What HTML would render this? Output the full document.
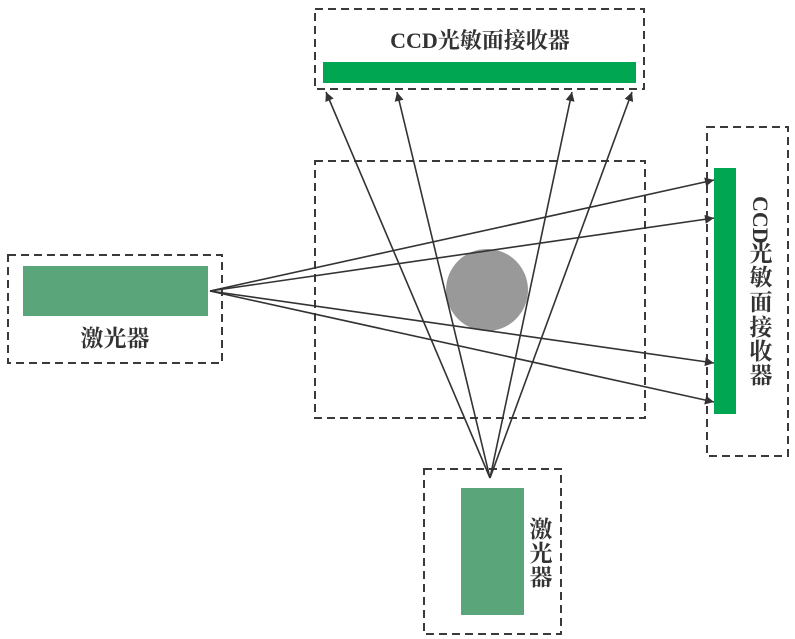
<!DOCTYPE html>
<html><head><meta charset="utf-8"><style>
html,body{margin:0;padding:0;background:#fff;}
svg{display:block;}
text{font-family:"Liberation Serif","Noto Serif CJK SC",serif;fill:#333;font-weight:bold;}
</style></head><body>
<svg width="795" height="639" viewBox="0 0 795 639" xmlns="http://www.w3.org/2000/svg">
<defs>
<marker id="a" viewBox="0 0 10 10" refX="10" refY="5" markerWidth="13" markerHeight="9" markerUnits="userSpaceOnUse" orient="auto">
<path d="M0,0 L10,5 L0,10 z" fill="#333"/></marker>
</defs>
<g fill="none" stroke="#3a3a3a" stroke-width="2" stroke-dasharray="8,5">
<rect x="315" y="9" width="329" height="80"/>
<rect x="707" y="127" width="81" height="329"/>
<rect x="315" y="161" width="330" height="257"/>
<rect x="8" y="255" width="214" height="108"/>
<rect x="424" y="469" width="137" height="165"/>
</g>
<rect x="323" y="62" width="313" height="21" fill="#00a651"/>
<rect x="714" y="168" width="22" height="246" fill="#00a651"/>
<rect x="23" y="266" width="185" height="50" fill="#5aa57a"/>
<rect x="461" y="488" width="63" height="127" fill="#5aa57a"/>
<circle cx="487" cy="290" r="41" fill="#999"/>
<g stroke="#333" stroke-width="1.6" marker-end="url(#a)">
<line x1="210" y1="291" x2="714" y2="180"/>
<line x1="210" y1="291" x2="714" y2="218"/>
<line x1="210" y1="291" x2="714" y2="363"/>
<line x1="210" y1="291" x2="714" y2="402"/>
<line x1="490" y1="478" x2="326" y2="92"/>
<line x1="490" y1="478" x2="397" y2="92"/>
<line x1="490" y1="478" x2="572" y2="92"/>
<line x1="490" y1="478" x2="632" y2="92"/>
</g>
<text x="480" y="48" font-size="22" text-anchor="middle">CCD光敏面接收器</text>
<text x="115" y="346" font-size="23" text-anchor="middle">激光器</text>
<text transform="translate(753,196) rotate(90)" font-size="22">CCD</text>
<g font-size="23" text-anchor="middle">
<text x="761" y="261">光</text>
<text x="761" y="285">敏</text>
<text x="761" y="310">面</text>
<text x="761" y="335">接</text>
<text x="761" y="359">收</text>
<text x="761" y="383">器</text>
</g>
<g font-size="23" text-anchor="middle">
<text x="541" y="537">激</text>
<text x="541" y="561">光</text>
<text x="541" y="585">器</text>
</g>
</svg>
</body></html>
